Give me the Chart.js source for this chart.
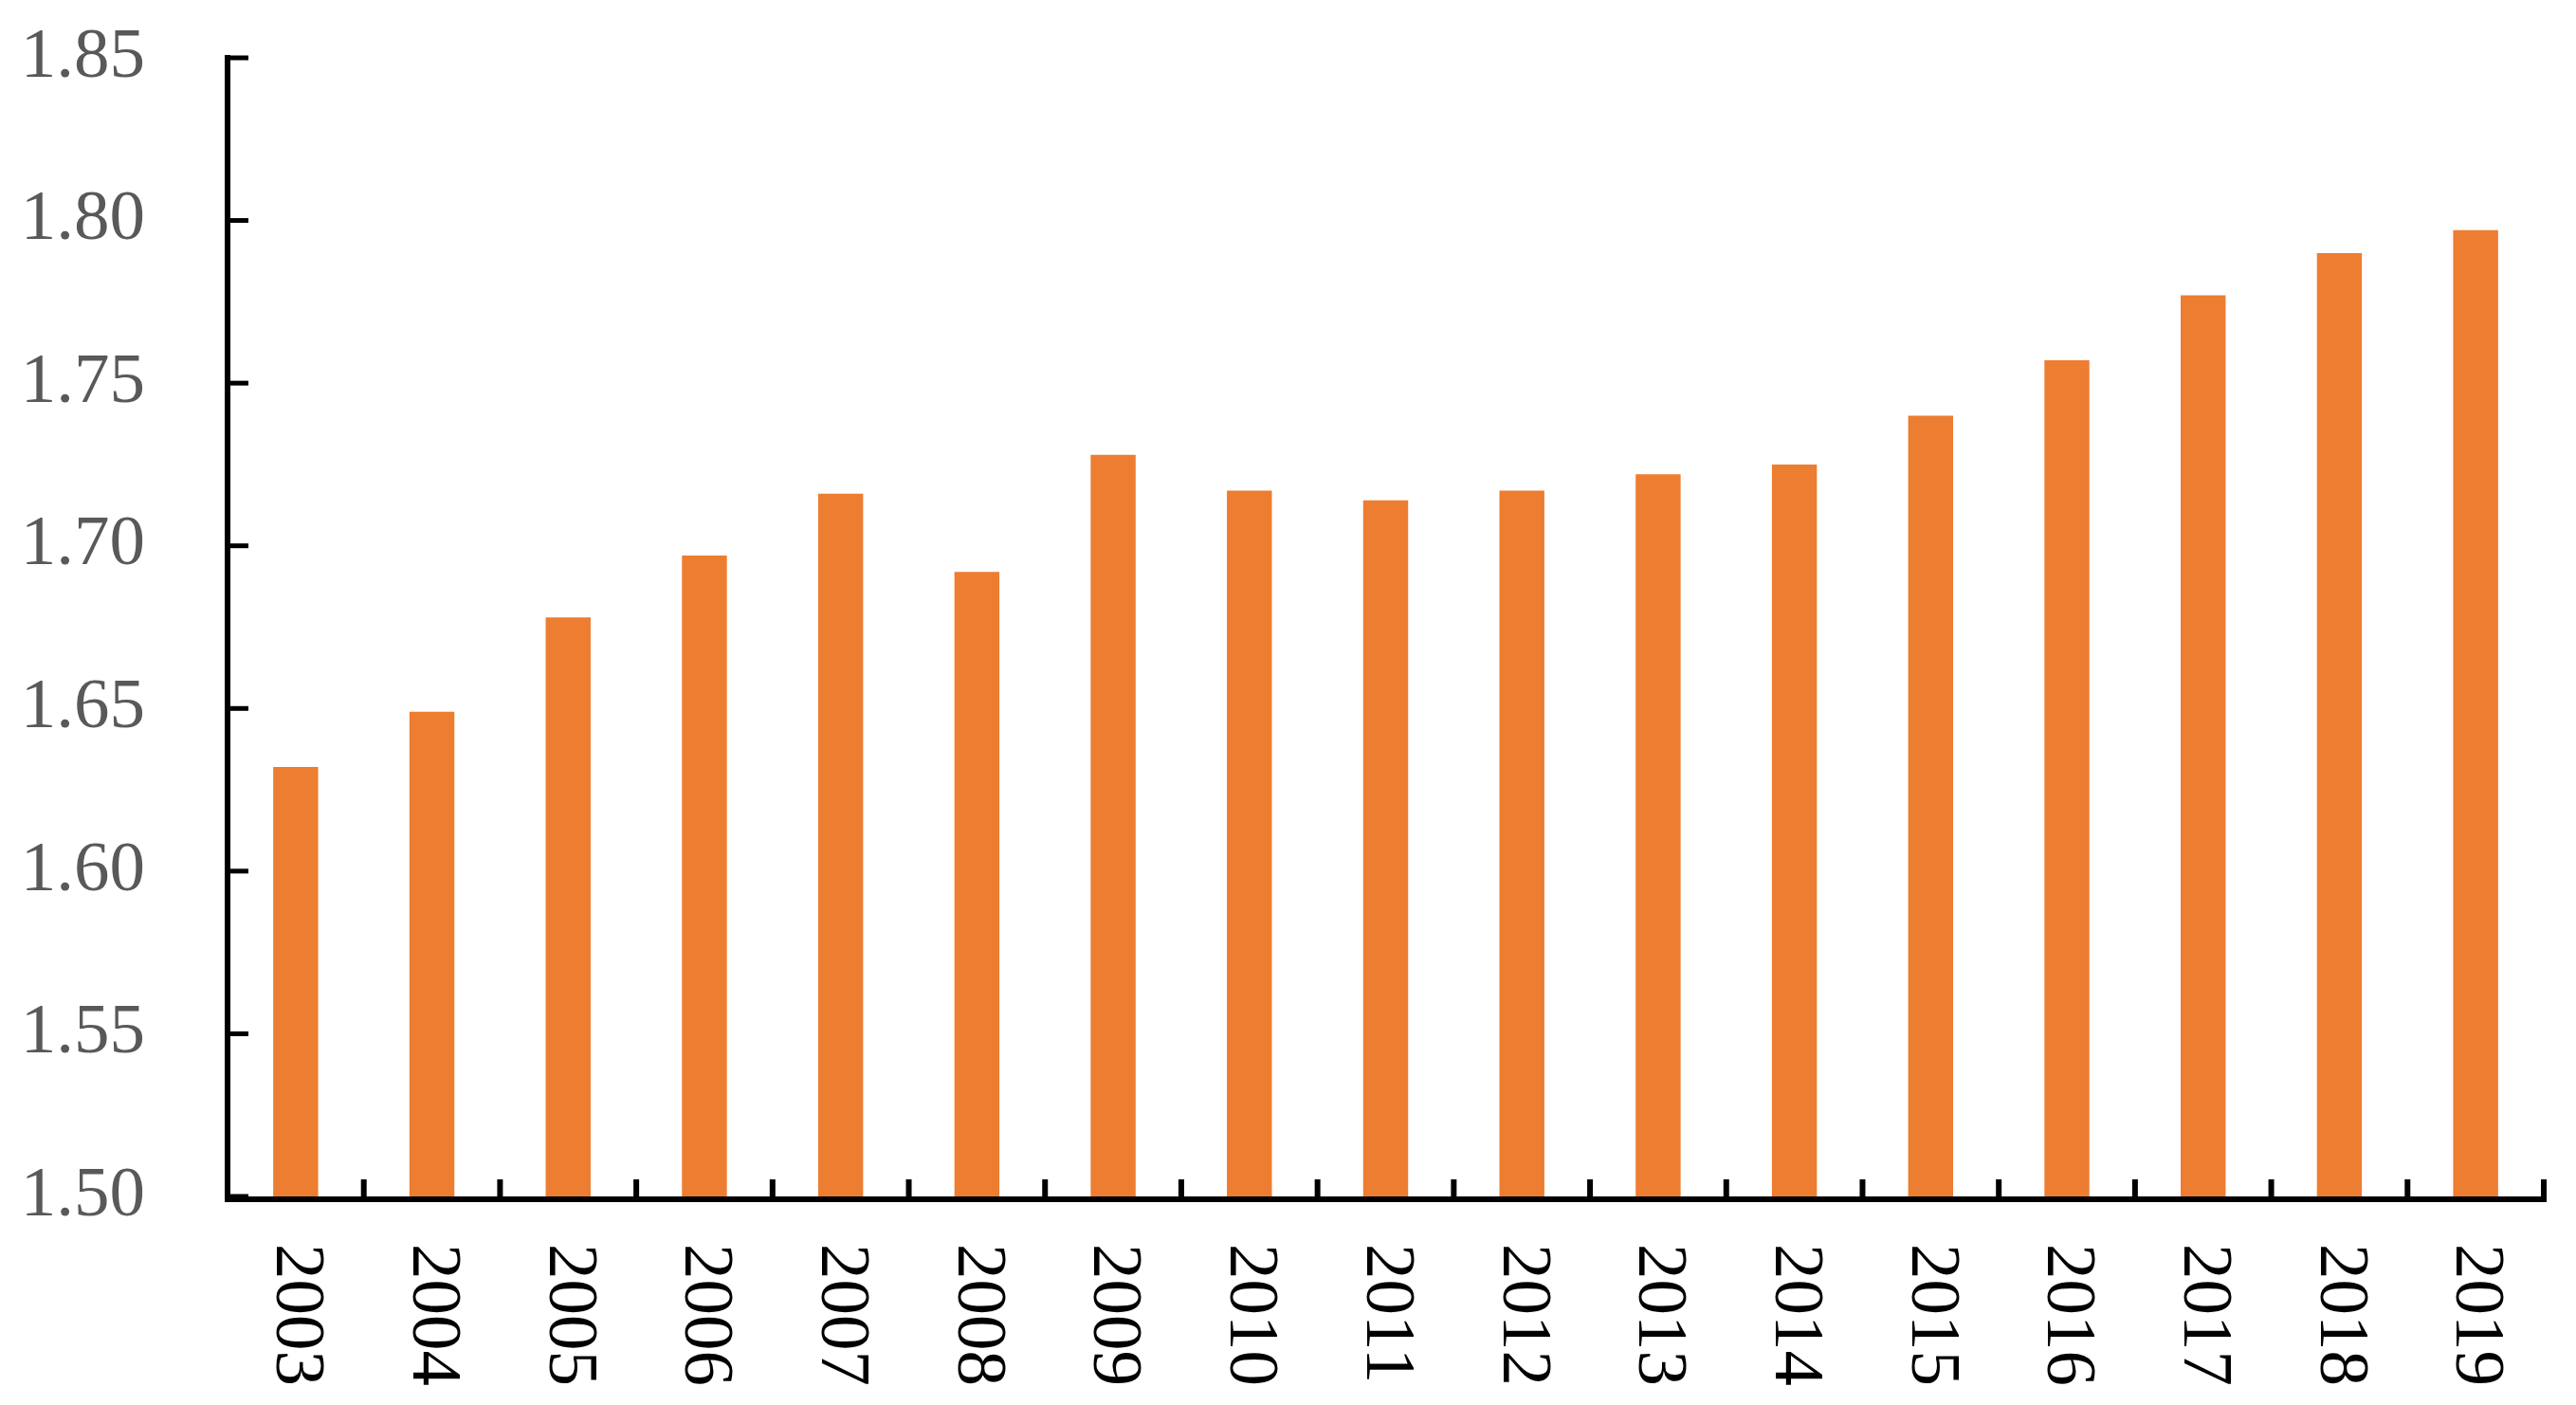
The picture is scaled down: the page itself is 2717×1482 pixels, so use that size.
<!DOCTYPE html>
<html>
<head>
<meta charset="utf-8">
<script src="https://cdn.jsdelivr.net/npm/chart.js@4"></script>
<style>
  html, body { margin: 0; padding: 0; background: #fff; }
  canvas { display: block; }
</style>
</head>
<body>
<canvas id="chart" width="2717" height="1482"></canvas>
<script>
// dados do gráfico
const anos = ['2003', '2004', '2005', '2006', '2007', '2008', '2009', '2010', '2011',
  '2012', '2013', '2014', '2015', '2016', '2017', '2018', '2019'];
const valores = [1.632, 1.649, 1.678, 1.697, 1.716, 1.692, 1.728, 1.717, 1.714,
  1.717, 1.722, 1.725, 1.740, 1.757, 1.777, 1.790, 1.797];
const eixoY = { min: 1.50, max: 1.85, passo: 0.05 };

const fonte = '"Liberation Serif", "Times New Roman", serif';

// desenha eixos com marcas para dentro e os rótulos dos dois eixos
const eixosPlugin = {
  id: 'eixos',
  afterDraw(chart) {
    const ctx = chart.ctx;
    const area = chart.chartArea;
    const x = chart.scales.x;
    const y = chart.scales.y;
    ctx.save();
    ctx.strokeStyle = '#000';
    ctx.lineCap = 'butt';

    // eixo y
    ctx.lineWidth = 6;
    ctx.beginPath();
    ctx.moveTo(area.left, y.getPixelForValue(eixoY.max) - 3);
    ctx.lineTo(area.left, area.bottom + 6);
    ctx.stroke();
    ctx.lineWidth = 5;
    ctx.fillStyle = '#595959';
    ctx.font = '75px ' + fonte;
    ctx.textAlign = 'right';
    ctx.textBaseline = 'middle';
    y.ticks.forEach(t => {
      const py = y.getPixelForValue(t.value);
      ctx.beginPath();
      ctx.moveTo(area.left, py);
      ctx.lineTo(area.left + 22, py);
      ctx.stroke();
      ctx.fillText(t.value.toFixed(2), area.left - 87, py);
    });

    // eixo x
    const baseY = area.bottom + 3;
    ctx.lineWidth = 6;
    ctx.beginPath();
    ctx.moveTo(area.left - 3, baseY);
    ctx.lineTo(area.right + 3, baseY);
    ctx.stroke();
    for (let i = 1; i <= anos.length; i++) {
      const px = (x.getPixelForValue(i - 1) + x.getPixelForValue(Math.min(i, anos.length - 1))) / 2;
      const bx = i === anos.length ? area.right : px;
      ctx.beginPath();
      ctx.moveTo(bx, baseY);
      ctx.lineTo(bx, baseY - 21);
      ctx.stroke();
    }

    // rótulos do eixo x (girados 90° no sentido horário)
    ctx.fillStyle = '#000';
    ctx.textAlign = 'left';
    anos.forEach((ano, i) => {
      ctx.save();
      ctx.translate(x.getPixelForValue(i), area.bottom + 50);
      ctx.rotate(Math.PI / 2);
      ctx.fillText(ano, 0, 0);
      ctx.restore();
    });
    ctx.restore();
  }
};

new Chart(document.getElementById('chart'), {
  type: 'bar',
  data: {
    labels: anos,
    datasets: [{
      data: valores,
      backgroundColor: '#ED7D31',
      borderWidth: 0,
      barPercentage: 0.33,
      categoryPercentage: 1.0
    }]
  },
  options: {
    responsive: false,
    animation: false,
    layout: { padding: { top: 61, right: 34, left: 0, bottom: 0 } },
    plugins: {
      legend: { display: false },
      tooltip: { enabled: false }
    },
    scales: {
      x: {
        grid: { display: false, drawTicks: false },
        border: { display: false },
        ticks: { display: false },
        afterFit(scale) { scale.height = 1482 - 1262; }
      },
      y: {
        min: eixoY.min,
        max: eixoY.max,
        grid: { display: false, drawTicks: false },
        border: { display: false },
        ticks: { display: false, stepSize: eixoY.passo },
        afterFit(scale) { scale.width = 240; }
      }
    }
  },
  plugins: [eixosPlugin]
});
</script>
</body>
</html>
